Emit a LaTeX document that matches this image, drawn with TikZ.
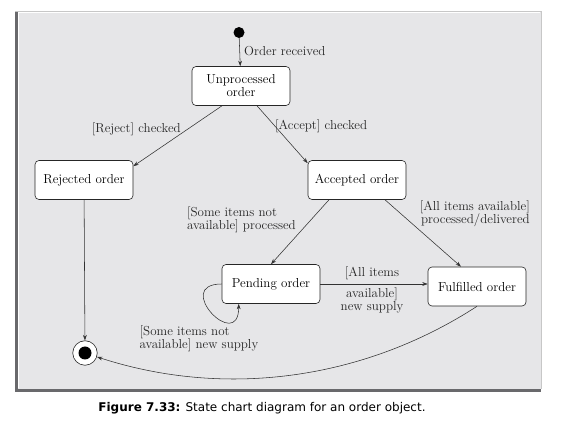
\documentclass[tikz,border=0pt]{standalone}
\usepackage{fontspec}
\newfontfamily\capfont{DejaVu Sans}
\usetikzlibrary{arrows.meta}
\definecolor{panelgray}{RGB}{230,230,232}
\definecolor{shadegray}{RGB}{105,105,108}
\definecolor{linegray}{RGB}{50,50,50}
\tikzset{
    statebox/.style={draw=black!85, fill=white, rounded corners=4pt, line width=0.6pt,
        minimum width=98pt, minimum height=39pt, align=center, inner sep=2pt},
    lbl/.style={inner sep=0pt, text=black!85},
}
\begin{document}
\begin{tikzpicture}[x=1pt, y=1pt, >={Stealth[length=5.5pt,width=3.8pt]},
        font=\fontsize{13}{13}\selectfont]
    \useasboundingbox (0,0) rectangle (564,422);
    % panel
    \fill[panelgray] (15,30) rectangle (541,411);
    \draw[black!22, line width=0.8pt] (15,411) -- (541,411) -- (541,33);
    \draw[white, line width=0.8pt] (18.6,33.5) -- (18.6,409.6) -- (540,409.6);
    \fill[shadegray] (15,30) rectangle (17.6,410);
    \fill[shadegray] (15,30) rectangle (541,33.2);
    \begin{scope}[every node/.style={statebox}]
        \node (unproc) at (241, 336) {Unprocessed\\order};
        \node (rejected) at (84, 242) {Rejected order};
        \node (accepted) at (357, 242) {Accepted order};
        \node (pending) at (271, 138) {Pending order};
        \node (fulfilled) at (477, 135.5) {Fulfilled order};
    \end{scope}
    \node (start) [circle, fill=black, minimum size=11pt, inner sep=0pt] at (239, 389.5) {};
    \node (final) [circle, draw=black!85, fill=white, line width=0.6pt, minimum size=24.5pt, inner sep=0pt,
        path picture={\fill[black] (path picture bounding box.center) circle (6.5pt);}] at (85, 69) {};
    \begin{scope}[every node/.style={lbl}]
        \node (lrecv) [anchor=west] at (244, 371) {Order received};
        \node (lreject) [anchor=east] at (181, 293) {[Reject] checked};
        \node (laccept) [anchor=west] at (275, 296) {[Accept] checked};
        \node (lsome) [anchor=east, align=left] at (296, 202.5) {[Some items not\\available] processed};
        \node (lall) [anchor=east, align=right] at (530, 208) {[All items available]\\processed/delivered};
        \node (litems) at (372, 148.7) {[All items};
        \node (lnew) [align=center] at (372, 121.5) {available]\\new supply};
        \node (lloop) [anchor=west, align=left] at (139.5, 83) {[Some items not\\available] new supply};
    \end{scope}
    \begin{scope}[linegray, line width=0.55pt]
        \path [->] (start) edge (unproc);
        \path [->] ([xshift=-19pt]unproc.south) edge ([yshift=-6pt]rejected.north east);
        \path [->] ([xshift=16pt]unproc.south) edge ([yshift=-3pt]accepted.north west);
        \path [->] ([xshift=-28pt]accepted.south) edge (pending.north);
        \path [->] ([xshift=28pt]accepted.south) edge ([xshift=-16pt]fulfilled.north);
        \path [->] (pending.east) edge (pending.east -| fulfilled.west);
        \draw [->] (pending.west) .. controls +(-50,0) and +(0,-50) .. ([xshift=17pt]pending.south west);
        \path [->] (rejected) edge (final);
        \path [->] (fulfilled.south) edge[out=-147, in=-18, looseness=0.9] (final);
    \end{scope}
    \node (caption) at (262, 14) {\capfont\fontsize{12}{14}\selectfont\textbf{Figure 7.33:} State chart diagram for an order object.};
\end{tikzpicture}
\end{document}
